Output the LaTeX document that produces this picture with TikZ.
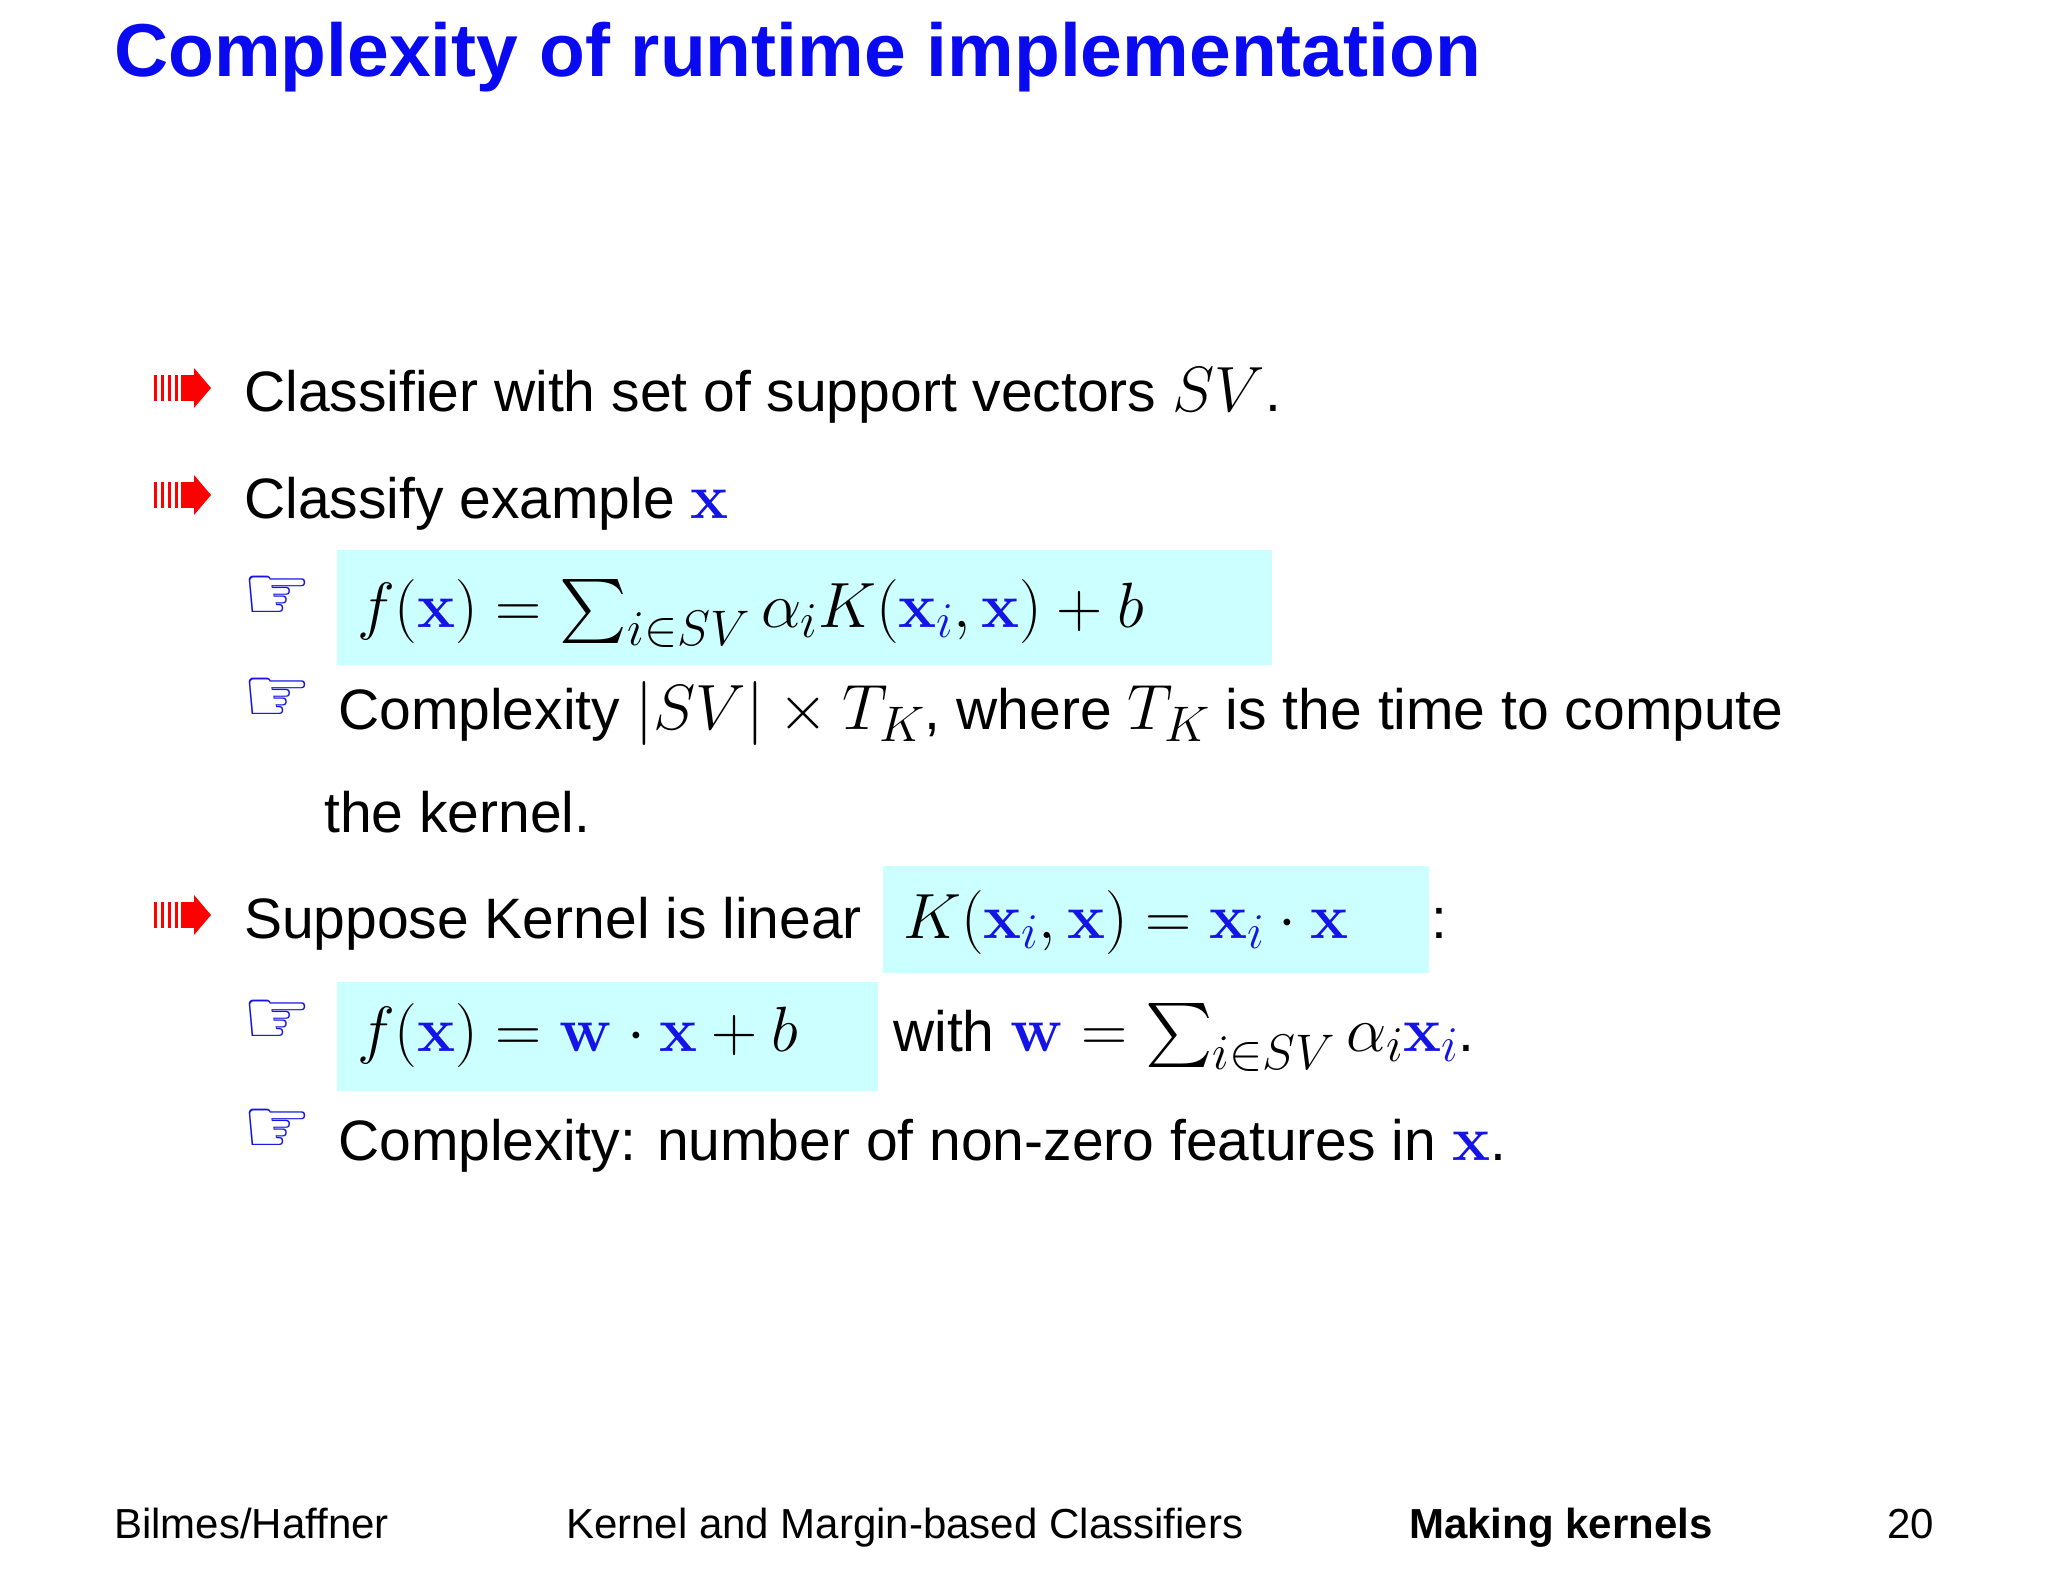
\documentclass[tikz,border=0pt]{standalone}
\usepackage{fix-cm}
\usepackage[no-math]{fontspec}
\setmainfont{Liberation Sans}
\newfontfamily\djv{DejaVu Sans}
\DeclareFontShape{OMX}{cmex}{m}{n}{<->cmex10}{}
\DeclareMathSizes{57}{64}{50}{40}
\definecolor{xblue}{RGB}{20,20,230}
\definecolor{tblue}{RGB}{10,10,240}
\definecolor{boxcyan}{RGB}{204,255,255}
\newcommand{\bx}{{\color{xblue}\mathbf{x}}}
\newcommand{\bw}{{\color{xblue}\mathbf{w}}}
\newcommand{\bxi}{{\color{xblue}\mathbf{x}_i}}
\begin{document}
\begin{tikzpicture}[x=1pt,y=-1pt,
  body/.style={anchor=base west,inner sep=0pt,font=\fontsize{57}{66}\selectfont},
  foot/.style={anchor=base west,inner sep=0pt,font=\fontsize{42}{48}\selectfont},
  hand/.style={anchor=base west,inner sep=0pt,text=xblue,font=\djv\fontsize{78}{80}\selectfont}]
\useasboundingbox (0,0) rectangle (2048,1582);
\newcommand{\redarrow}[2]{%
  \foreach \dx in {0,7,14,21}{\fill[red] (#1+\dx,#2-13) rectangle ++(3,26);}
  \fill[red] (#1+27,#2-13) rectangle (#1+40,#2+13);
  \fill[red] (#1+40,#2-20) -- (#1+57,#2) -- (#1+40,#2+20) -- cycle;}
\node[anchor=base west,inner sep=0pt,text=tblue,font=\bfseries\fontsize{75}{86}\selectfont] (title) at (114,76) {Complexity of runtime implementation};
% boxes
\fill[boxcyan] (337,550) rectangle (1272,665);
\fill[boxcyan] (883,866) rectangle (1429,973);
\fill[boxcyan] (337,982) rectangle (878,1091);
% bullets
\redarrow{154}{388}
\node[body] (b1) at (244,411) {Classifier with set of support vectors $SV$.};
\redarrow{154}{495}
\node[body] (b2) at (244,518) {Classify example $\bx$};
\node[hand] (h1) at (242,620) {☞};
\node[body] (s1) at (357,627) {$f(\bx)=\sum_{i\in SV}\alpha_i K(\bxi,\bx)+b$};
\node[hand] (h2) at (242,722) {☞};
\node[body] (s2) at (338,729) {Complexity $|SV|\times T_K$, where $T_K$ is the time to compute};
\node[body] (s2b) at (324,832) {the kernel.};
\redarrow{154}{915}
\node[body] (b3) at (244,938) {Suppose Kernel is linear};
\node[body] (b3m) at (903,938) {$K(\bxi,\bx)=\bxi\cdot\bx$};
\node[body] (b3c) at (1431,938) {:};
\node[hand] (h3) at (242,1044) {☞};
\node[body] (s3) at (357,1051) {$f(\bx)=\bw\cdot\bx+b$};
\node[body] (s3b) at (893,1051) {with $\bw=\sum_{i\in SV}\alpha_i\bxi$.};
\node[hand] (h4) at (242,1153) {☞};
\node[body] (s4) at (338,1160) {Complexity: number of non-zero features in $\bx$.};
% footer
\node[foot] (f1) at (114,1538) {Bilmes/Haffner};
\node[foot] (f2) at (566,1538) {Kernel and Margin-based Classifiers};
\node[foot,font=\bfseries\fontsize{42}{48}\selectfont] (f3) at (1409,1538) {Making kernels};
\node[foot,anchor=base east] (f4) at (1934,1538) {20};
\end{tikzpicture}
\end{document}
